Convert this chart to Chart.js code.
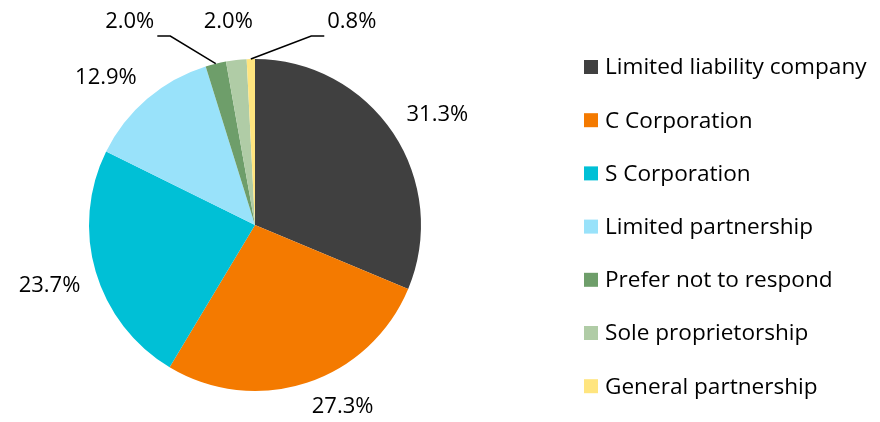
<!DOCTYPE html>
<html>
<head>
<meta charset="utf-8">
<script src="https://cdn.jsdelivr.net/npm/chart.js@4/dist/chart.umd.min.js"></script>
<style>
  html, body { margin: 0; padding: 0; background: #fff; }
  #wrap { width: 880px; height: 422px; position: relative; }
</style>
</head>
<body>
<div id="wrap"><canvas id="myChart" width="880" height="422"></canvas></div>
<script>
const categories = ['Limited liability company', 'C Corporation', 'S Corporation', 'Limited partnership', 'Prefer not to respond', 'Sole proprietorship', 'General partnership'];
const shares = [31.3, 27.3, 23.7, 12.9, 2.0, 2.0, 0.8];
const colors = ['#404040', '#F47A00', '#00C0D6', '#99E2FA', '#6E9E6A', '#B0CCA6', '#FFE57F'];

const FONT = '"Open Sans", "Liberation Sans", sans-serif';

// percentage labels outside the pie, small slices lifted to the top with leader lines
const pieLabels = {
  id: 'pieLabels',
  afterDatasetsDraw(chart, args, opts) {
    const ctx = chart.ctx;
    const meta = chart.getDatasetMeta(0);
    ctx.save();
    ctx.font = opts.size + 'px ' + FONT;
    ctx.fillStyle = '#000';
    ctx.textAlign = 'center';
    ctx.textBaseline = 'middle';
    let small = 0;
    meta.data.forEach((arc, i) => {
      const p = arc.getProps(['x', 'y', 'startAngle', 'endAngle', 'outerRadius'], true);
      const a = (p.startAngle + p.endAngle) / 2;
      const txt = shares[i].toFixed(1) + '%';
      const w = ctx.measureText(txt).width;
      const h = 18;
      if (shares[i] >= 5) {
        // the label box's nearest corner sits on the slice's mid ray
        const d = p.outerRadius + opts.gap;
        const lx = p.x + Math.cos(a) * d + Math.sign(Math.cos(a)) * w / 2;
        const ly = p.y + Math.sin(a) * d + Math.sign(Math.sin(a)) * h / 2;
        ctx.fillText(txt, lx, ly);
      } else {
        const ex = p.x + Math.cos(a) * p.outerRadius;
        const ey = p.y + Math.sin(a) * p.outerRadius;
        const side = opts.smallShift[small];
        const lx = ex + side;
        const ly = p.y - p.outerRadius - opts.lift;
        ctx.fillText(txt, lx, ly);
        if (Math.abs(side) > 30) {
          const dir = side < 0 ? 1 : -1;
          const endX = lx + dir * (w / 2 + 3);
          const elbowX = lx + dir * (w / 2 + 16);
          const lineY = ly + 14;
          ctx.beginPath();
          ctx.strokeStyle = '#000';
          ctx.lineWidth = 1.5;
          ctx.moveTo(ex, ey);
          ctx.lineTo(elbowX, lineY);
          ctx.lineTo(endX, lineY);
          ctx.stroke();
        }
        small++;
      }
    });
    ctx.restore();
  }
};

// legend drawn to the right of the pie
const sideLegend = {
  id: 'sideLegend',
  afterDraw(chart, args, opts) {
    const ctx = chart.ctx;
    ctx.save();
    ctx.font = opts.size + 'px ' + FONT;
    ctx.textAlign = 'left';
    ctx.textBaseline = 'middle';
    categories.forEach((c, i) => {
      const y = opts.top + i * opts.step;
      ctx.fillStyle = colors[i];
      ctx.fillRect(opts.left, y - 7, 14, 14);
      ctx.fillStyle = '#000';
      ctx.fillText(c, opts.left + 21, y + 1);
    });
    ctx.restore();
  }
};

new Chart(document.getElementById('myChart'), {
  type: 'pie',
  data: {
    labels: categories,
    datasets: [{
      data: shares,
      backgroundColor: colors,
      borderWidth: 0
    }]
  },
  options: {
    responsive: false,
    animation: false,
    layout: { padding: { left: 89, right: 459, top: 59, bottom: 31 } },
    plugins: {
      legend: { display: false },
      tooltip: { enabled: false },
      pieLabels: { size: 22, gap: 16, lift: 37, smallShift: [-86, -8, 101] },
      sideLegend: { size: 22.6, left: 584, top: 67, step: 53.2 }
    }
  },
  plugins: [pieLabels, sideLegend]
});
</script>
</body>
</html>
